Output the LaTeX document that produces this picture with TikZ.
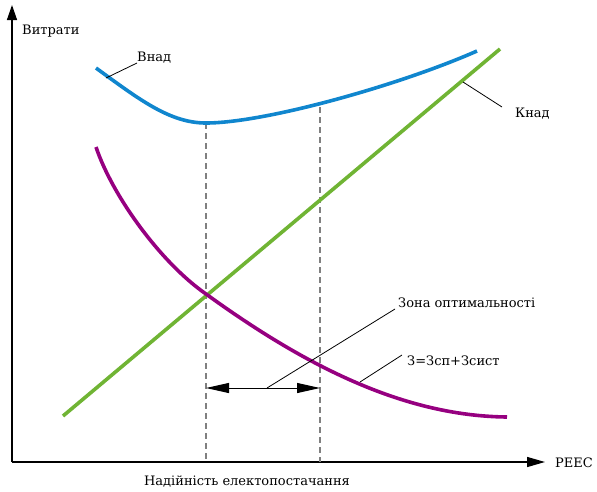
\documentclass[tikz,border=0pt]{standalone}
\usepackage{fontspec}
\setmainfont{DejaVu Serif}
\usepackage{tikz}
\usetikzlibrary{arrows.meta}

\definecolor{vnadblue}{RGB}{16,134,206}
\definecolor{knadgreen}{RGB}{112,180,52}
\definecolor{sumpurple}{RGB}{150,0,128}
\definecolor{dashgrey}{RGB}{128,128,128}

\begin{document}
\begin{tikzpicture}[x=1pt,y=-1pt,
        lbl/.style={font={\fontsize{13}{15}\selectfont}, black, inner sep=0pt, anchor=base west},
        lead/.style={black, line width=0.8pt},
        curve/.style={line width=3.6pt},
        guide/.style={dashgrey, line width=1.6pt, dash pattern=on 6pt off 4pt}]
        \useasboundingbox (0,0) rectangle (597,491);

        % axes
        \coordinate (O) at (12,462);
        \coordinate (ytop) at (12,5);
        \coordinate (xend) at (545,462);
        \draw[line width=1.4pt, -{Triangle[length=15pt,width=10pt]}] (O) -- (ytop);
        \draw[line width=1.4pt, -{Triangle[length=18pt,width=10pt]}] (O) -- (xend);
        \node[lbl] (vytraty) at (22,34) {Витрати};
        \node[lbl] (reec) at (555,467) {PEEC};
        \node[lbl, anchor=base] (nadiynist) at (247,485) {Надійність електопостачання};

        % bounds of the zone
        \coordinate (zl) at (206,123);
        \coordinate (zr) at (320,107);
        \draw[guide] (zl) -- (zl |- O);
        \draw[guide] (zr) -- (zr |- O);

        % curves
        \draw[curve, knadgreen] (63,416) -- (500,49);
        \draw[curve, vnadblue] (96,68) .. controls (140,100) and (170,123) .. (206,123)
                .. controls (265,123) and (400,85) .. (477,51);
        \draw[curve, sumpurple] (96,147) .. controls (112,195) and (160,262) .. (206,294)
                .. controls (300,362) and (400,416) .. (507,417);

        % labels with leaders
        \node[lbl] (vnad) at (137,61) {Внад};
        \coordinate (vnadpt) at (106,78);
        \draw[lead] (vnadpt) -- (vnad.south west);

        \node[lbl] (knad) at (515,117) {Кнад};
        \coordinate (knadpt) at (463,82);
        \draw[lead] (knadpt) -- (502,107);

        \node[lbl] (zona) at (398,307) {Зона оптимальності};
        \coordinate (zonapt) at (267,388);
        \draw[lead] (zonapt) -- (395,309);

        \node[lbl] (zsum) at (407,365) {З=Зсп+Зсист};
        \coordinate (zsumpt) at (360,382);
        \draw[lead] (zsumpt) -- (402,355);

        % zone arrow
        \coordinate (al) at (zl |- 0,388);
        \coordinate (ar) at (zr |- 0,388);
        \draw[line width=1pt, {Triangle[length=23pt,width=10pt]}-{Triangle[length=23pt,width=10pt]}] (al) -- (ar);
\end{tikzpicture}
\end{document}
